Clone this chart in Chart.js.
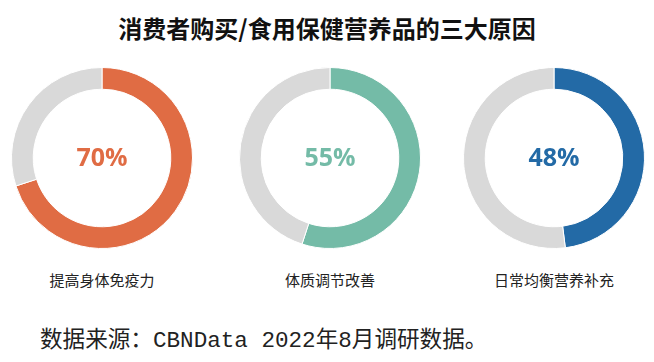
<!DOCTYPE html>
<html>
<head>
<meta charset="utf-8">
<script src="https://cdn.jsdelivr.net/npm/chart.js@4/dist/chart.umd.min.js"></script>
<style>
    html, body { margin: 0; padding: 0; background: #fff; }
    #wrap { position: relative; width: 654px; height: 362px; overflow: hidden; }
    .title {
        position: absolute; left: 0; width: 654px; top: 12px; text-align: center;
        font: bold 24px "Noto Sans CJK SC", sans-serif; color: #111; line-height: 32px;
    }
    .ring { position: absolute; top: 67px; width: 182px; height: 182px; }
    .label {
        position: absolute; top: 270px; width: 200px; text-align: center;
        font: 15px "Noto Sans CJK SC", sans-serif; color: #222; line-height: 20px;
    }
    .source {
        position: absolute; left: 40px; top: 326px; white-space: nowrap;
        font: 22.6px "Liberation Mono", "Noto Sans CJK SC", monospace; color: #222; line-height: 30px;
    }
</style>
</head>
<body>
<div id="wrap">
    <div class="title">消费者购买/食用保健营养品的三大原因</div>
    <div class="source">数据来源：CBNData 2022年8月调研数据。</div>
</div>
<script>
/* ─────────────────────────────────────────────
   Data
───────────────────────────────────────────── */
const reasons = ['提高身体免疫力', '体质调节改善', '日常均衡营养补充'];
const shares = [70, 55, 48];
const ringColors = ['#E06C44', '#74BBA7', '#236AA6'];
const restColor = '#D9D9D9';
const centers = [102, 330, 554];

/* ─────────────────────────────────────────────
   Center label plugin
───────────────────────────────────────────── */
const centerText = {
    id: 'centerText',
    afterDraw(chart, args, opts) {
        const { ctx, chartArea } = chart;
        const x = (chartArea.left + chartArea.right) / 2;
        const y = (chartArea.top + chartArea.bottom) / 2;
        ctx.save();
        ctx.font = 'bold 25px "Open Sans", sans-serif';
        ctx.fillStyle = opts.color;
        ctx.textAlign = 'center';
        ctx.textBaseline = 'middle';
        ctx.fillText(opts.text, x, y + 1);
        ctx.restore();
    }
};

const wrap = document.getElementById('wrap');

reasons.forEach((name, i) => {
    const box = document.createElement('div');
    box.className = 'ring';
    box.style.left = (centers[i] - 91) + 'px';
    const cv = document.createElement('canvas');
    box.appendChild(cv);
    wrap.appendChild(box);

    const lab = document.createElement('div');
    lab.className = 'label';
    lab.style.left = (centers[i] - 100) + 'px';
    lab.textContent = name;
    wrap.appendChild(lab);

    new Chart(cv, {
        type: 'doughnut',
        data: {
            labels: [name, ''],
            datasets: [{
                data: [shares[i], 100 - shares[i]],
                backgroundColor: [ringColors[i], restColor],
                borderColor: '#fff',
                borderWidth: 1
            }]
        },
        options: {
            responsive: true,
            maintainAspectRatio: false,
            animation: false,
            cutout: '76%',
            layout: { padding: 0 },
            plugins: {
                legend: { display: false },
                tooltip: { enabled: false },
                centerText: { text: shares[i] + '%', color: ringColors[i] }
            }
        },
        plugins: [centerText]
    });
});
</script>
</body>
</html>
